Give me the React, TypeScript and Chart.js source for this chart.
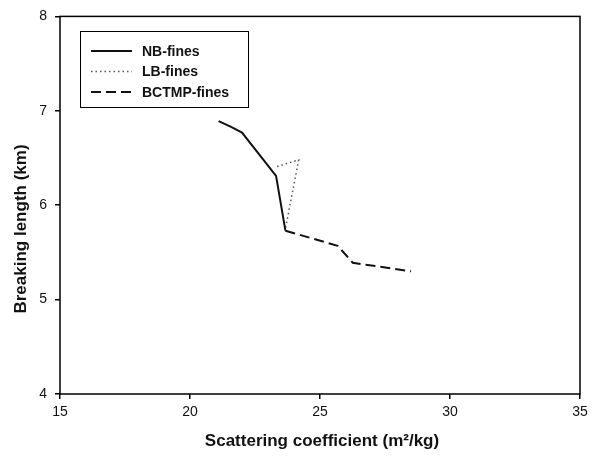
import React, { useEffect, useRef } from "react";
import { Chart, registerables } from "chart.js";

Chart.register(...registerables);

// ---- data ----
const nbX = [21.1, 21.58, 22.0, 23.31, 23.67];
const nbY = [6.89, 6.83, 6.77, 6.31, 5.73];

const lbX = [23.35, 24.18, 23.67];
const lbY = [6.41, 6.48, 5.75];

const bcX = [23.67, 25.68, 26.26, 28.5];
const bcY = [5.73, 5.57, 5.39, 5.3];

const seriesNames = ["NB-fines", "LB-fines", "BCTMP-fines"];
const xTickValues = [15, 20, 25, 30, 35];
const yTickValues = [4, 5, 6, 7, 8];
const xTitle = "Scattering coefficient (m\u00B2/kg)";
const yTitle = "Breaking length (km)";

const FONT = "'Liberation Sans', Arial, Helvetica, sans-serif";

const toPts = (xs: number[], ys: number[]) => xs.map((x, i) => ({ x, y: ys[i] }));

const frameLegendTitles = {
  id: "frameLegendTitles",
  afterDraw(chart: any) {
    const { ctx, chartArea } = chart;
    ctx.save();
    ctx.strokeStyle = "#000";
    ctx.lineWidth = 1.5;
    ctx.setLineDash([]);
    ctx.strokeRect(chartArea.left, chartArea.top, chartArea.right - chartArea.left, chartArea.bottom - chartArea.top);

    // legend box
    const bx = 80.5, by = 31.5, bw = 168, bh = 76;
    ctx.lineWidth = 1;
    ctx.strokeRect(bx, by, bw, bh);
    const rows = [51, 71.5, 92];
    chart.data.datasets.forEach((ds: any, i: number) => {
      const y = rows[i];
      ctx.beginPath();
      ctx.strokeStyle = ds.borderColor;
      ctx.lineWidth = ds.borderWidth;
      ctx.setLineDash(ds.borderDash || []);
      ctx.moveTo(91, y);
      ctx.lineTo(132, y);
      ctx.stroke();
      ctx.setLineDash([]);
      ctx.fillStyle = "#111";
      ctx.font = `bold 14px ${FONT}`;
      ctx.textBaseline = "middle";
      ctx.textAlign = "left";
      ctx.fillText(ds.label, 142, y + 1);
    });

    // axis titles
    ctx.fillStyle = "#111";
    ctx.font = `bold 17px ${FONT}`;
    ctx.textAlign = "center";
    ctx.textBaseline = "middle";
    ctx.fillText(xTitle, (chartArea.left + chartArea.right) / 2 + 2, 441);
    ctx.translate(21, 229);
    ctx.rotate(-Math.PI / 2);
    ctx.fillText(yTitle, 0, 0);
    ctx.restore();
  },
};

export default function App() {
  const ref = useRef<HTMLCanvasElement>(null);

  useEffect(() => {
    document.body.style.margin = "0";
    Chart.defaults.font.family = FONT;
    const chart = new Chart(ref.current as HTMLCanvasElement, {
      type: "scatter",
      data: {
        datasets: [
          {
            label: seriesNames[0],
            data: toPts(nbX, nbY),
            showLine: true,
            borderColor: "#111",
            borderWidth: 2,
            pointRadius: 0,
            tension: 0,
          },
          {
            label: seriesNames[1],
            data: toPts(lbX, lbY),
            showLine: true,
            borderColor: "#555",
            borderWidth: 1.5,
            borderDash: [1.5, 3],
            pointRadius: 0,
            tension: 0,
          },
          {
            label: seriesNames[2],
            data: toPts(bcX, bcY),
            showLine: true,
            borderColor: "#111",
            borderWidth: 2,
            borderDash: [10, 5],
            pointRadius: 0,
            tension: 0,
          },
        ],
      },
      options: {
        responsive: false,
        animation: false,
        layout: { padding: { left: 0, right: 13, top: 15, bottom: 0 } },
        plugins: { legend: { display: false }, tooltip: { enabled: false } },
        scales: {
          x: {
            type: "linear",
            min: 15,
            max: 35,
            afterBuildTicks: (s: any) => {
              s.ticks = xTickValues.map((v) => ({ value: v }));
            },
            afterFit: (s: any) => {
              s.height = 62;
            },
            ticks: { color: "#111", font: { size: 14 }, padding: 5, maxRotation: 0 },
            grid: { drawOnChartArea: false, drawTicks: true, tickLength: 5, color: "#000", lineWidth: 1.5 },
            border: { display: false },
            title: { display: false },
          },
          y: {
            type: "linear",
            min: 4,
            max: 8,
            afterBuildTicks: (s: any) => {
              s.ticks = yTickValues.map((v) => ({ value: v }));
            },
            afterFit: (s: any) => {
              s.width = 60;
            },
            ticks: { color: "#111", font: { size: 14 }, padding: 8 },
            grid: { drawOnChartArea: false, drawTicks: true, tickLength: 5, color: "#000", lineWidth: 1.5 },
            border: { display: false },
            title: { display: false },
          },
        },
      },
      plugins: [frameLegendTitles],
    } as any);
    return () => chart.destroy();
  }, []);

  return (
    <div style={{ width: 593, height: 456 }}>
      <canvas ref={ref} width={593} height={456} style={{ display: "block" }} />
    </div>
  );
}
